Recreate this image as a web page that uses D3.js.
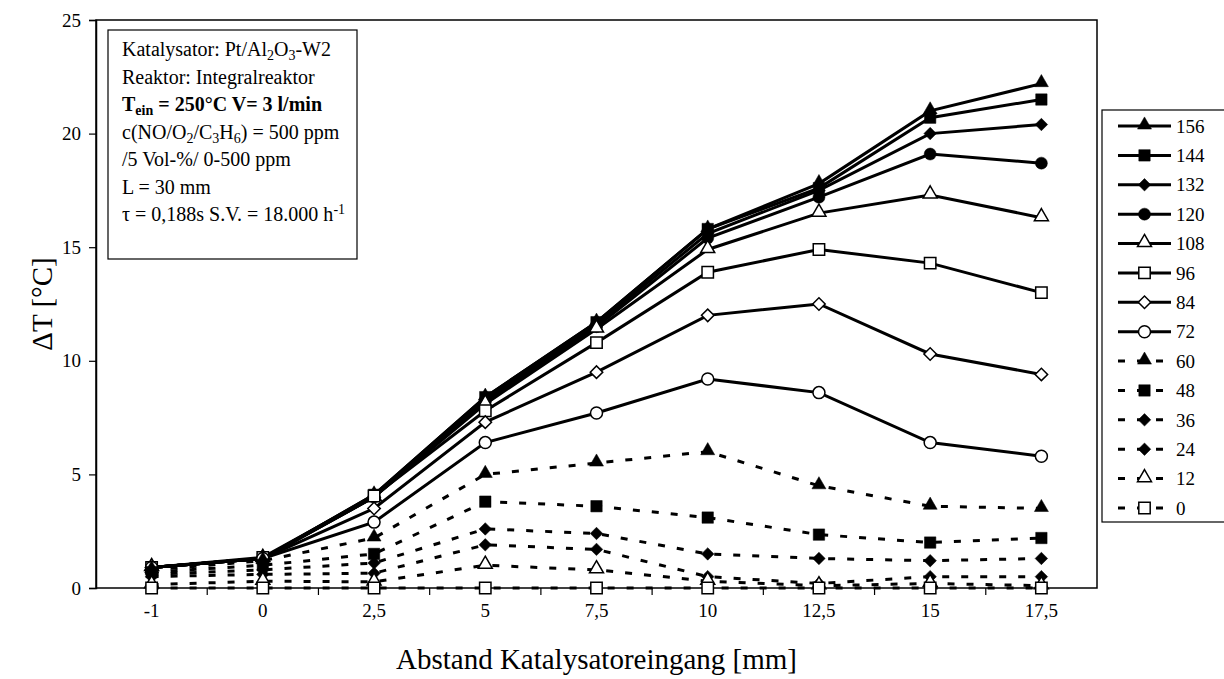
<!DOCTYPE html>
<html>
<head>
<meta charset="utf-8">
<script src="https://cdn.jsdelivr.net/npm/d3@7"></script>
<style>
  body { margin: 0; background: #fff; }
  text { font-family: "Liberation Serif", "Times New Roman", serif; fill: #000; }
</style>
</head>
<body>
<div id="chart"></div>
<script>
const categories = ["-1", "0", "2,5", "5", "7,5", "10", "12,5", "15", "17,5"];
const yTicks = [0, 5, 10, 15, 20, 25];
const seriesNames = ["156", "144", "132", "120", "108", "96", "84", "72", "60", "48", "36", "24", "12", "0"];

const s156 = [0.9, 1.3, 4.1, 8.4, 11.7, 15.8, 17.8, 21.0, 22.2];
const s144 = [0.9, 1.3, 4.1, 8.4, 11.7, 15.8, 17.6, 20.7, 21.5];
const s132 = [0.9, 1.3, 4.0, 8.3, 11.6, 15.6, 17.5, 20.0, 20.4];
const s120 = [0.9, 1.3, 4.0, 8.2, 11.5, 15.4, 17.2, 19.1, 18.7];
const s108 = [0.9, 1.3, 4.0, 8.1, 11.4, 14.9, 16.5, 17.3, 16.3];
const s96 = [0.9, 1.35, 4.05, 7.8, 10.8, 13.9, 14.9, 14.3, 13.0];
const s84 = [0.9, 1.3, 3.5, 7.3, 9.5, 12.0, 12.5, 10.3, 9.4];
const s72 = [0.9, 1.3, 2.9, 6.4, 7.7, 9.2, 8.6, 6.4, 5.8];
const s60 = [0.8, 1.2, 2.2, 5.0, 5.5, 6.0, 4.5, 3.6, 3.5];
const s48 = [0.7, 1.0, 1.5, 3.8, 3.6, 3.1, 2.35, 2.0, 2.2];
const s36 = [0.6, 0.8, 1.1, 2.6, 2.4, 1.5, 1.3, 1.2, 1.3];
const s24 = [0.5, 0.6, 0.65, 1.9, 1.7, 0.5, 0.2, 0.5, 0.5];
const s12 = [0.15, 0.3, 0.27, 1.0, 0.8, 0.3, 0.1, 0.2, 0.1];
const s0 = [0, 0, 0, 0, 0, 0, 0, 0, 0];

const seriesValues = [s156, s144, s132, s120, s108, s96, s84, s72, s60, s48, s36, s24, s12, s0];

// marker style per series: shape, filled, dashed
const styles = [
    { shape: "triangle", fill: true, dash: false },
    { shape: "square", fill: true, dash: false },
    { shape: "diamond", fill: true, dash: false },
    { shape: "circle", fill: true, dash: false },
    { shape: "triangle", fill: false, dash: false },
    { shape: "square", fill: false, dash: false },
    { shape: "diamond", fill: false, dash: false },
    { shape: "circle", fill: false, dash: false },
    { shape: "triangle", fill: true, dash: true },
    { shape: "square", fill: true, dash: true },
    { shape: "diamond", fill: true, dash: true },
    { shape: "diamond", fill: true, dash: true },
    { shape: "triangle", fill: false, dash: true },
    { shape: "square", fill: false, dash: true },
];

const W = 1224, H = 679;
const plot = { left: 96, right: 1097, top: 20, bottom: 588 };

const svg = d3.select("#chart").append("svg").attr("width", W).attr("height", H);

const x = d3.scaleBand().domain(categories).range([plot.left, plot.right]).paddingInner(0).paddingOuter(0);
const xc = (c) => x(c) + x.bandwidth() / 2;
const y = d3.scaleLinear().domain([0, 25]).range([plot.bottom, plot.top]);

// frame
svg.append("rect")
    .attr("x", plot.left).attr("y", plot.top)
    .attr("width", plot.right - plot.left).attr("height", plot.bottom - plot.top)
    .attr("fill", "none").attr("stroke", "#000").attr("stroke-width", 1.5);

// y axis
const yAxis = d3.axisLeft(y).tickValues(yTicks).tickSize(7).tickPadding(8).tickFormat(d3.format("d"));
svg.append("g").attr("transform", `translate(${plot.left},0)`).call(yAxis)
    .call((g) => g.select(".domain").attr("stroke-width", 1.5))
    .call((g) => g.selectAll(".tick line").attr("stroke-width", 1.2))
    .call((g) => g.selectAll("text").style("font-size", "19px").attr("font-family", null));

// x axis: ticks between categories, labels centered
const xAxis = d3.axisBottom(x).tickSize(0).tickPadding(16);
svg.append("g").attr("transform", `translate(0,${plot.bottom})`).call(xAxis)
    .call((g) => g.select(".domain").remove())
    .call((g) => g.selectAll("text").style("font-size", "19px").attr("font-family", null));

svg.append("g").selectAll("line")
    .data(categories.slice(1))
    .join("line")
    .attr("x1", (d) => x(d)).attr("x2", (d) => x(d))
    .attr("y1", plot.bottom).attr("y2", plot.bottom + 7)
    .attr("stroke", "#000").attr("stroke-width", 1.2);

// axis titles
svg.append("text")
    .attr("x", (plot.left + plot.right) / 2).attr("y", 669)
    .attr("text-anchor", "middle")
    .style("font-size", "29px")
    .text("Abstand Katalysatoreingang [mm]");

svg.append("text")
    .attr("transform", `translate(52,${(plot.top + plot.bottom) / 2}) rotate(-90)`)
    .attr("text-anchor", "middle")
    .style("font-size", "29px")
    .text("ΔT [°C]");

// marker generator
function marker(sel, shape) {
    if (shape === "circle") {
        return sel.append("circle").attr("r", 6);
    }
    const types = { triangle: d3.symbolTriangle, square: d3.symbolSquare, diamond: d3.symbolSquare };
    const sizes = { triangle: 85, square: 130, diamond: 78 };
    const p = sel.append("path").attr("d", d3.symbol().type(types[shape]).size(sizes[shape])());
    if (shape === "diamond") p.attr("transform", "rotate(45)");
    if (shape === "triangle") p.attr("transform", "translate(0,-1)");
    return p;
}

const line = d3.line().x((d, i) => xc(categories[i])).y((d) => y(d));

const seriesG = svg.append("g").selectAll("g")
    .data(seriesValues)
    .join("g");

seriesG.append("path")
    .attr("d", (d) => line(d))
    .attr("fill", "none")
    .attr("stroke", "#000")
    .attr("stroke-width", 3)
    .attr("stroke-dasharray", (d, i) => (styles[i].dash ? "7,12" : null));

seriesG.each(function (vals, si) {
    const st = styles[si];
    d3.select(this).selectAll("g.pt")
        .data(vals)
        .join("g")
        .attr("class", "pt")
        .attr("transform", (d, i) => `translate(${xc(categories[i])},${y(d)})`)
        .each(function () {
            marker(d3.select(this), st.shape)
                .attr("fill", st.fill ? "#000" : "#fff")
                .attr("stroke", "#000")
                .attr("stroke-width", st.fill ? 0.5 : 1.5);
        });
});

// info box
const info = svg.append("g");
info.append("rect")
    .attr("x", 108).attr("y", 30).attr("width", 249).attr("height", 229)
    .attr("fill", "#fff").attr("stroke", "#000").attr("stroke-width", 1.2);

const infoLines = [
    [["Katalysator: Pt/Al"], ["2", "sub"], ["O"], ["3", "sub"], ["-W2"]],
    [["Reaktor: Integralreaktor"]],
    [["T"], ["ein", "sub"], [" = 250°C V= 3 l/min"]],
    [["c(NO/O"], ["2", "sub"], ["/C"], ["3", "sub"], ["H"], ["6", "sub"], [") = 500 ppm"]],
    [["/5 Vol-%/ 0-500 ppm"]],
    [["L = 30 mm"]],
    [["τ = 0,188s S.V. = 18.000 h"], ["-1", "sup"]],
];

infoLines.forEach((parts, li) => {
    const t = info.append("text")
        .attr("x", 122).attr("y", 56 + li * 27.5)
        .style("font-size", "20px")
        .attr("font-weight", li === 2 ? "bold" : null);
    let shift = 0;
    parts.forEach(([s, kind]) => {
        const sp = t.append("tspan").text(s);
        const target = kind === "sub" ? 4 : kind === "sup" ? -7 : 0;
        sp.attr("dy", target - shift);
        shift = target;
        if (kind) sp.style("font-size", "14px");
    });
});

// legend
const legend = svg.append("g");
legend.append("rect")
    .attr("x", 1102).attr("y", 110).attr("width", 140).attr("height", 412)
    .attr("fill", "#fff").attr("stroke", "#000").attr("stroke-width", 1.2);

const ly = d3.scalePoint().domain(seriesNames).range([126, 508]);

seriesNames.forEach((name, i) => {
    const st = styles[i];
    const g = legend.append("g").attr("transform", `translate(0,${ly(name)})`);
    g.append("line")
        .attr("x1", 1118).attr("x2", 1171)
        .attr("stroke", "#000").attr("stroke-width", 3)
        .attr("stroke-dasharray", st.dash ? "7,12" : null);
    const m = g.append("g").attr("transform", "translate(1144.5,0)");
    marker(m, st.shape)
        .attr("fill", st.fill ? "#000" : "#fff")
        .attr("stroke", "#000")
        .attr("stroke-width", st.fill ? 0.5 : 1.5);
    g.append("text")
        .attr("x", 1176).attr("y", 0).attr("dy", "0.35em")
        .style("font-size", "19px")
        .text(name);
});
</script>
</body>
</html>
